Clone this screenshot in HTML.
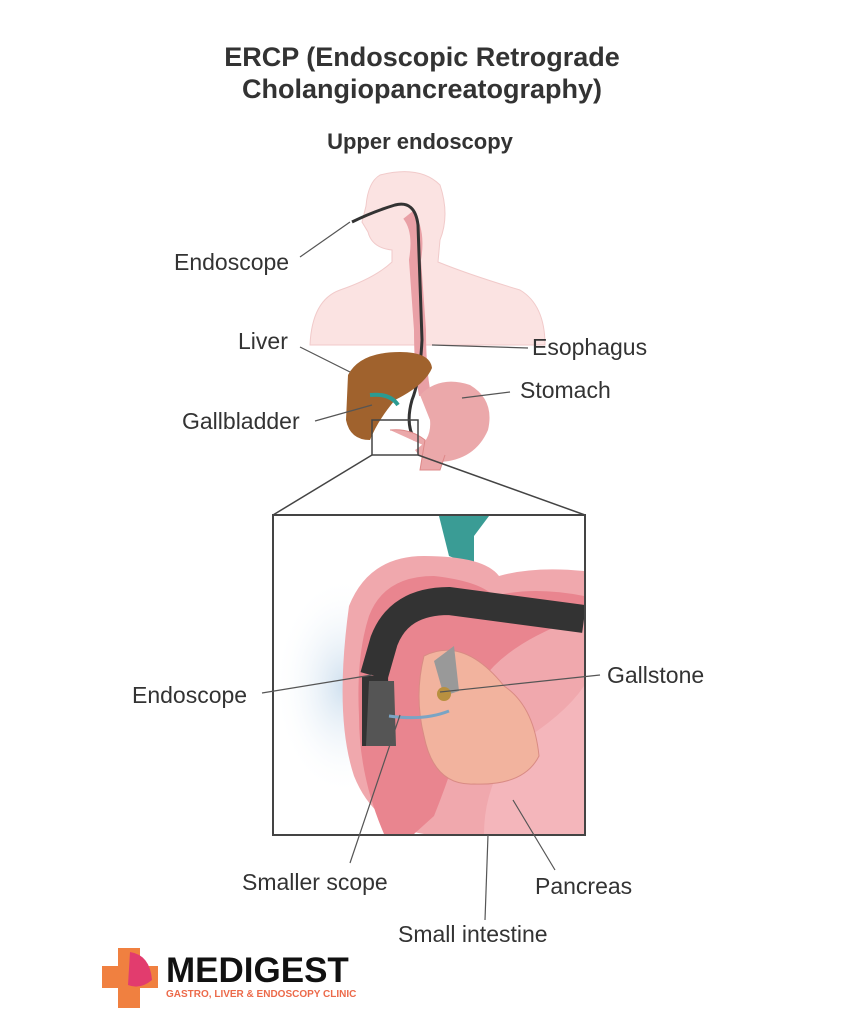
<!DOCTYPE html>
<html><head><meta charset="utf-8"><style>
body{margin:0;background:#fff;width:868px;height:1024px;overflow:hidden;font-family:"Liberation Sans",sans-serif}
</style></head><body>
<svg width="868" height="1024" viewBox="0 0 868 1024" xmlns="http://www.w3.org/2000/svg" font-family="Liberation Sans, sans-serif">
<defs>
<radialGradient id="blue" cx="0.5" cy="0.5" r="0.5"><stop offset="0" stop-color="#cfe0ef"/><stop offset="1" stop-color="#fff" stop-opacity="0"/></radialGradient>
</defs>
<text x="422" y="66" text-anchor="middle" font-size="27" font-weight="bold" fill="#333">ERCP (Endoscopic Retrograde</text>
<text x="422" y="98" text-anchor="middle" font-size="27" font-weight="bold" fill="#333">Cholangiopancreatography)</text>
<text x="420" y="149" text-anchor="middle" font-size="22" font-weight="bold" fill="#333">Upper endoscopy</text>

<path d="M380 175 Q420 165 440 185 Q450 215 440 240 L438 262 Q470 275 520 290 Q545 305 545 345 L310 345 Q312 300 340 290 Q375 278 392 262 L392 250 Q372 248 368 232 L362 222 L366 206 Q368 182 380 175Z" fill="#fbe3e2" stroke="#f1caca" stroke-width="1"/>
<path d="M408 215 Q420 230 415 260 L420 330 Q420 370 425 395" fill="none" stroke="#e9a0a6" stroke-width="12"/>
<path d="M352 222 Q372 212 395 205 Q415 200 418 225 L422 340 Q420 380 412 400 Q405 425 415 440" fill="none" stroke="#333" stroke-width="3"/>
<path d="M348 375 Q360 352 400 352 Q430 352 432 368 Q425 385 395 400 Q378 420 370 440 Q350 440 346 420Z" fill="#a0622d"/>
<path d="M370 395 Q390 393 398 405" stroke="#2b9b92" stroke-width="4" fill="none"/>
<path d="M420 395 Q440 375 470 385 Q495 400 488 430 Q475 460 440 462 Q425 465 415 450 Q432 440 430 420Z" fill="#eba8aa"/>
<path d="M390 430 Q410 428 425 440 L420 470 L440 470 L445 455" fill="#eba8aa" stroke="#d88" stroke-width="1"/>
<rect x="372" y="420" width="46" height="35" fill="none" stroke="#444" stroke-width="1.5"/>
<line x1="372" y1="455" x2="273" y2="515" stroke="#444" stroke-width="1.5"/>
<line x1="418" y1="455" x2="585" y2="515" stroke="#444" stroke-width="1.5"/>

<rect x="273" y="515" width="312" height="320" fill="#fff" stroke="#444" stroke-width="2"/>
<svg x="274" y="516" width="310" height="318" viewBox="0 0 310 318">
<ellipse cx="70" cy="170" rx="70" ry="110" fill="url(#blue)"/>
<path d="M150 0 L165 0 L175 40 L200 50 L200 20 L215 0Z" fill="#3a9c95"/>
<path d="M75 90 Q95 40 150 40 Q210 40 225 60 Q260 50 310 55 L310 318 L150 318 Q100 310 80 260 Q60 200 75 90Z" fill="#f0a8ad"/>
<path d="M95 100 Q110 60 160 60 Q205 65 220 80 Q260 70 310 80 L310 100 Q250 120 220 150 Q200 170 190 210 Q180 250 160 300 L140 318 L110 318 Q85 260 85 200 Q82 140 95 100Z" fill="#e9858f"/>
<path d="M240 230 Q290 200 310 170 L310 318 L210 318 Q210 270 240 230Z" fill="#f4b6bb"/>
<path d="M150 140 Q190 120 230 170 Q260 190 265 240 Q250 270 200 268 Q160 270 150 220 Q140 180 150 140Z" fill="#f2b39e" stroke="#d98b84" stroke-width="1"/>
<path d="M160 145 L180 130 L185 175 L170 180Z" fill="#999"/>
<circle cx="170" cy="178" r="7" fill="#b89040"/>
<path d="M310 103 L175 85 Q125 85 110 125 L100 160" fill="none" stroke="#333" stroke-width="28"/>
<path d="M88 160 L114 160 L116 230 L88 230Z" fill="#333"/>
<path d="M95 165 L120 165 L122 230 L92 230Z" fill="#555"/>
<path d="M115 200 Q150 205 175 195" stroke="#7aa4c4" stroke-width="3" fill="none"/>
</svg>

<g stroke="#555" stroke-width="1.2" fill="none">
<line x1="300" y1="257" x2="350" y2="222"/>
<line x1="300" y1="347" x2="350" y2="372"/>
<line x1="315" y1="421" x2="372" y2="405"/>
<line x1="432" y1="345" x2="528" y2="348"/>
<line x1="462" y1="398" x2="510" y2="392"/>
<line x1="262" y1="693" x2="372" y2="675"/>
<line x1="600" y1="675" x2="440" y2="692"/>
<line x1="350" y1="863" x2="400" y2="715"/>
<line x1="485" y1="920" x2="488" y2="835"/>
<line x1="555" y1="870" x2="513" y2="800"/>
</g>
<g font-size="23" fill="#333">
<text x="174" y="270">Endoscope</text>
<text x="238" y="349">Liver</text>
<text x="532" y="355">Esophagus</text>
<text x="520" y="398">Stomach</text>
<text x="182" y="429">Gallbladder</text>
<text x="132" y="703">Endoscope</text>
<text x="607" y="683">Gallstone</text>
<text x="242" y="890">Smaller scope</text>
<text x="535" y="894">Pancreas</text>
<text x="398" y="942">Small intestine</text>
</g>
<path d="M118 948 h22 v18 h18 v22 h-18 v20 h-22 v-20 h-16 v-22 h16z" fill="#f08040"/>
<path d="M130 952 Q150 955 152 980 Q140 990 128 985Z" fill="#e23c6e"/>
<text x="166" y="982" font-size="35" font-weight="bold" fill="#111">MEDIGEST</text>
<text x="166" y="997" font-size="10" font-weight="bold" fill="#ec6a4a">GASTRO, LIVER &amp; ENDOSCOPY CLINIC</text>
</svg>
</body></html>
